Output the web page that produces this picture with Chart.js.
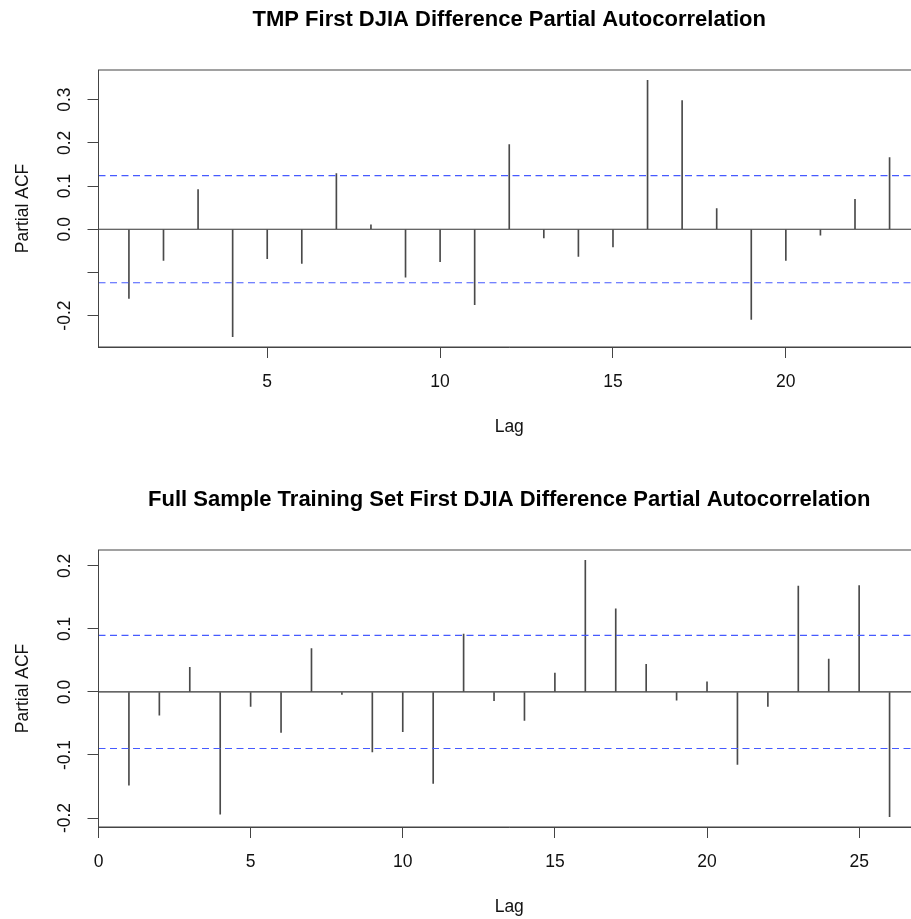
<!DOCTYPE html>
<html>
<head>
<meta charset="utf-8">
<title>DJIA Difference Partial Autocorrelation</title>
<script src="https://cdn.jsdelivr.net/npm/chart.js@4.4.1/dist/chart.umd.min.js"></script>
<style>
  html, body { margin: 0; padding: 0; background: #fff; overflow: hidden; }
  body { width: 911px; height: 919px; position: relative; }
  canvas { position: absolute; left: 0; }
  #tmpChart { top: 0; }
  #fullChart { top: 480px; }
</style>
</head>
<body>
<canvas id="tmpChart" width="920" height="480"></canvas>
<canvas id="fullChart" width="920" height="480"></canvas>
<script>
// TMP sample
const tmpLags = [1, 2, 3, 4, 5, 6, 7, 8, 9, 10, 11, 12, 13, 14, 15, 16, 17, 18, 19, 20, 21, 22, 23];
const tmpPacf = [-0.160, -0.072, 0.092, -0.249, -0.068, -0.079, 0.129, 0.010, -0.111, -0.075,
                 -0.175, 0.196, -0.020, -0.063, -0.041, 0.345, 0.298, 0.048, -0.209, -0.072,
                 -0.014, 0.069, 0.166];
const tmpCi = 0.124;
const tmpYTicks = [-0.2, -0.1, 0, 0.1, 0.2, 0.3];
const tmpYHidden = [-0.1];
const tmpXTicks = [5, 10, 15, 20];

// Full sample training set
const fullLags = [1, 2, 3, 4, 5, 6, 7, 8, 9, 10, 11, 12, 13, 14, 15, 16, 17, 18, 19, 20, 21, 22, 23, 24, 25, 26];
const fullPacf = [-0.148, -0.037, 0.039, -0.194, -0.023, -0.064, 0.069, -0.004, -0.095, -0.063,
                  -0.145, 0.092, -0.014, -0.045, 0.030, 0.209, 0.132, 0.044, -0.013, 0.016,
                  -0.115, -0.023, 0.168, 0.052, 0.169, -0.198];
const fullCi = 0.0897;
const fullYTicks = [-0.2, -0.1, 0, 0.1, 0.2];
const fullXTicks = [0, 5, 10, 15, 20, 25];

const FONT = "'Liberation Sans', Arial, Helvetica, sans-serif";
const AXIS_COLOR = "#444";
const CI_COLOR = "rgb(70,90,255)";

// R style axis limits: data range widened by 4% on each side
function paddedRange(values) {
    const lo = Math.min(...values);
    const hi = Math.max(...values);
    const pad = (hi - lo) * 0.04;
    return [lo - pad, hi + pad];
}

// Box around the plot region
const framePlugin = {
    id: "frame",
    afterDatasetsDraw(chart) {
        const { ctx, chartArea: a } = chart;
        ctx.save();
        ctx.strokeStyle = AXIS_COLOR;
        ctx.lineWidth = 1;
        ctx.strokeRect(a.left, a.top, a.right - a.left, a.bottom - a.top);
        ctx.restore();
    }
};

function buildChart(canvasId, title, lags, pacf, ci, yTicks, yHidden, xTicks) {
    const [xMin, xMax] = paddedRange(lags);
    const [yMin, yMax] = paddedRange(pacf.concat([-ci, ci]));

    const hline = (y, color, dash, order) => ({
        type: "line",
        data: [{ x: xMin, y: y }, { x: xMax, y: y }],
        borderColor: color,
        backgroundColor: color,
        borderWidth: 1.2,
        borderDash: dash,
        pointRadius: 0,
        fill: false,
        order: order
    });

    return new Chart(document.getElementById(canvasId), {
        type: "bar",
        data: {
            datasets: [
                hline(-ci, CI_COLOR, [7, 4.5], 0),
                hline(ci, CI_COLOR, [7, 4.5], 0),
                {
                    type: "bar",
                    data: lags.map((l, i) => ({ x: l, y: pacf[i] })),
                    backgroundColor: "#4a4a4a",
                    barThickness: 1,
                    order: 1
                },
                hline(0, "#333", [], 2)
            ]
        },
        options: {
            responsive: false,
            animation: false,
            devicePixelRatio: 1,
            layout: { padding: 0 },
            plugins: {
                legend: { display: false },
                tooltip: { enabled: false },
                title: {
                    display: true,
                    text: title,
                    fullSize: false,
                    color: "#000",
                    font: { family: FONT, size: 22, weight: "bold", lineHeight: 1.2 },
                    padding: { top: 6.6, bottom: 37 }
                }
            },
            scales: {
                x: {
                    type: "linear",
                    min: xMin,
                    max: xMax,
                    offset: false,
                    afterBuildTicks: (s) => { s.ticks = xTicks.map(v => ({ value: v })); },
                    afterFit: (s) => {
                        s.height = 133;
                        s.paddingLeft = 0; s.paddingRight = 0;
                    },
                    grid: {
                        offset: false,
                        drawOnChartArea: false,
                        drawTicks: true,
                        tickLength: 11,
                        tickColor: AXIS_COLOR
                    },
                    border: { display: true, color: AXIS_COLOR },
                    ticks: {
                        includeBounds: false,
                        maxRotation: 0,
                        autoSkip: false,
                        padding: 13.5,
                        color: "#111",
                        font: { family: FONT, size: 17.5, lineHeight: 1.2 },
                        callback: (v) => String(v)
                    },
                    title: {
                        display: true,
                        text: "Lag",
                        color: "#111",
                        font: { family: FONT, size: 17.5, lineHeight: 1.2 },
                        padding: { top: 0, bottom: 42.5 }
                    }
                },
                y: {
                    type: "linear",
                    min: yMin,
                    max: yMax,
                    afterBuildTicks: (s) => { s.ticks = yTicks.map(v => ({ value: v })); },
                    afterFit: (s) => {
                        s.width = 98.5;
                        s.paddingTop = 0; s.paddingBottom = 0;
                    },
                    grid: {
                        offset: false,
                        drawOnChartArea: false,
                        drawTicks: true,
                        tickLength: 11,
                        tickColor: AXIS_COLOR
                    },
                    border: { display: true, color: AXIS_COLOR },
                    ticks: {
                        minRotation: 90,
                        maxRotation: 90,
                        crossAlign: "center",
                        autoSkip: false,
                        padding: 7.5,
                        color: "#111",
                        font: { family: FONT, size: 17.5, lineHeight: 1.2 },
                        callback: (v) => yHidden.some(h => Math.abs(h - v) < 1e-9) ? "" : v.toFixed(1)
                    },
                    title: {
                        display: true,
                        text: "Partial ACF",
                        color: "#111",
                        font: { family: FONT, size: 17.5, lineHeight: 1.2 },
                        padding: { top: 12.5, bottom: 0 }
                    }
                }
            }
        },
        plugins: [framePlugin]
    });
}

buildChart("tmpChart", "TMP First DJIA Difference Partial Autocorrelation",
    tmpLags, tmpPacf, tmpCi, tmpYTicks, tmpYHidden, tmpXTicks);
buildChart("fullChart", "Full Sample Training Set First DJIA Difference Partial Autocorrelation",
    fullLags, fullPacf, fullCi, fullYTicks, [], fullXTicks);
</script>
</body>
</html>
